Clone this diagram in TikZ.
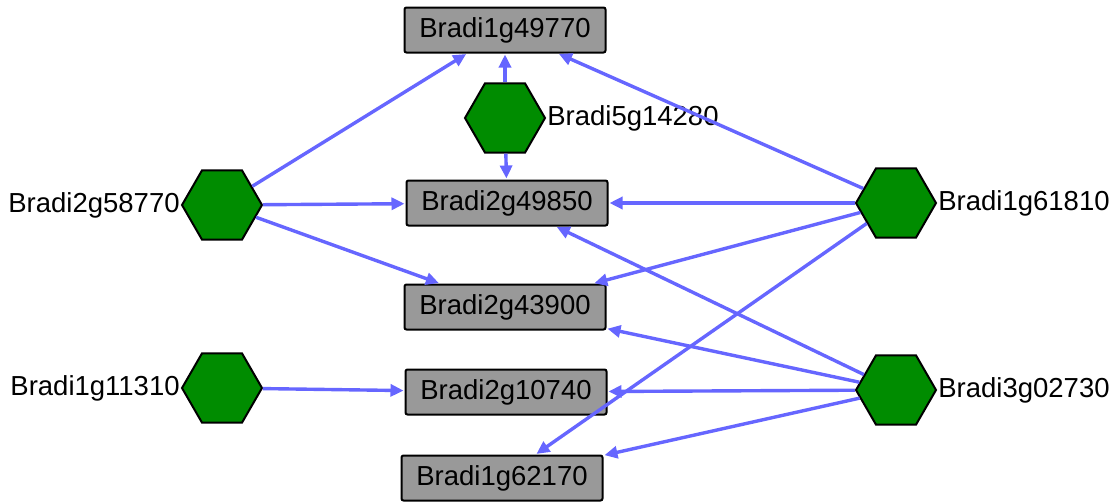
\documentclass[tikz,border=0pt]{standalone}
\usepackage{fontspec}
\setmainfont{Liberation Sans}
\usetikzlibrary{shapes.geometric,arrows.meta}
\definecolor{edgeblue}{RGB}{102,102,255}
\definecolor{hexgreen}{RGB}{0,140,0}
\definecolor{boxgray}{RGB}{153,153,153}
\tikzset{
  gene/.style={draw=black, line width=2pt, fill=boxgray, rounded corners=2pt,
    minimum width=201pt, minimum height=45pt, inner sep=0pt,
    font=\fontsize{27.5}{33}\selectfont},
  regulator/.style={draw=black, line width=2pt, fill=hexgreen,
    regular polygon, regular polygon sides=6, minimum size=80pt, inner sep=0pt},
  tag/.style={inner sep=1pt, font=\fontsize{27.5}{33}\selectfont},
  link/.style={draw=edgeblue, line width=3.4pt,
    -{Triangle[length=13pt,width=12pt]}, shorten >=1pt},
}
\begin{document}
\begin{tikzpicture}[x=1pt, y=-1pt]
\useasboundingbox (0,0) rectangle (1114,501);

% target genes
\node[gene] (g49770) at (505,30)  {Bradi1g49770};
\node[gene] (g49850) at (507,203) {Bradi2g49850};
\node[gene] (g43900) at (505,307) {Bradi2g43900};
\node[gene] (g10740) at (506,392) {Bradi2g10740};
\node[gene] (g62170) at (502,478) {Bradi1g62170};

% regulators
\node[regulator] (r14280) at (505,118) {};
\node[regulator] (r58770) at (222,205) {};
\node[regulator] (r11310) at (222,388) {};
\node[regulator] (r61810) at (896,203) {};
\node[regulator] (r02730) at (896,390) {};

% regulator labels
\node[tag, anchor=west] (l14280) at (r14280.east) {Bradi5g14280};
\node[tag, anchor=east] (l58770) at (r58770.west) {Bradi2g58770};
\node[tag, anchor=east] (l11310) at (r11310.west) {Bradi1g11310};
\node[tag, anchor=west] (l61810) at (r61810.east) {Bradi1g61810};
\node[tag, anchor=west] (l02730) at (r02730.east) {Bradi3g02730};

% regulatory links
\draw[link] (r58770) -- (g49770);
\draw[link] (r58770) -- (g49850);
\draw[link] (r58770) -- (g43900);
\draw[link] (r14280) -- (g49770);
\draw[link] (r14280) -- (g49850);
\draw[link] (r61810) -- (g49770);
\draw[link] (r61810) -- (g49850);
\draw[link] (r61810) -- (g43900);
\draw[link] (r61810) -- (g62170);
\draw[link] (r02730) -- (g49850);
\draw[link] (r02730) -- (g43900);
\draw[link] (r02730) -- (g10740);
\draw[link] (r02730) -- (g62170);
\draw[link] (r11310) -- (g10740);
\end{tikzpicture}
\end{document}
